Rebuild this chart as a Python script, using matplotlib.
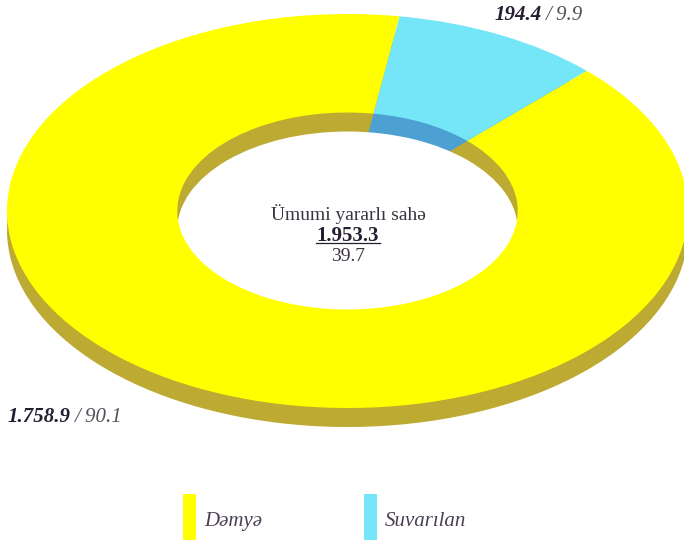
import matplotlib
matplotlib.use("Agg")
import matplotlib.pyplot as plt
from matplotlib.legend_handler import HandlerPatch
from matplotlib.lines import Line2D
from matplotlib.patches import Patch, Rectangle

categories = ["Dəmyə", "Suvarılan"]
areas = [1758.9, 194.4]
shares = ["90.1", "9.9"]
area_labels = ["1.758.9", "194.4"]
total_label = "Ümumi yararlı sahə"
total_value = "1.953.3"
total_share = "39.7"

top_colors = ["#FFFF00", "#74E6F8"]
side_colors = ["#BDAA32", "#4CA0D2"]

W, H = 684, 541
plt.rcParams["font.family"] = ["Liberation Serif", "DejaVu Serif"]
fig = plt.figure(figsize=(W / 100, H / 100), dpi=100, facecolor="white")
ax = fig.add_axes([0, 0, 1, 1])

CX, CY, RX, RY = 347.5, 211, 340.5, 197
DEPTH = 19 / RY
HOLE = 0.5
START = 81.2

common = dict(startangle=START, counterclock=True, normalize=True)
# outer side wall
w1, _ = ax.pie(areas, colors=side_colors, center=(0, -DEPTH), radius=1, **common)
# inner wall seen through the hole
w2, _ = ax.pie(areas, colors=side_colors, center=(0, 0), radius=HOLE, **common)
# white floor of the hole
w3, _ = ax.pie([1], colors=["white"], center=(0, -DEPTH), radius=HOLE, startangle=0)
# top face
w4, _ = ax.pie(areas, colors=top_colors, center=(0, 0), radius=1,
               wedgeprops=dict(width=1 - HOLE), **common)
for w in list(w1) + list(w2) + list(w3) + list(w4):
    w.set_linewidth(0)

ax.set_aspect("auto")
ax.set_xlim(-CX / RX, (W - CX) / RX)
ax.set_ylim(-(H - CY) / RY, CY / RY)
ax.axis("off")


def px(x, y):
    return x / W, 1 - y / H


ink = "#3B3340"
bold_ink = "#251D30"
fig.text(*px(348, 214.5), total_label, fontsize=14, color=ink, ha="center", va="center")
fig.text(*px(348, 235.5), total_value, fontsize=15, color=bold_ink, ha="center", va="center",
         fontweight="bold")
fig.add_artist(Line2D([316 / W, 380 / W], [1 - 243 / H] * 2, color=bold_ink, lw=0.9))
fig.text(*px(348, 256.5), total_share, fontsize=14, color=ink, ha="center", va="center")


def value_label(x, y, value, share):
    t = fig.text(*px(x, y), value, fontsize=15, color=bold_ink, ha="left", va="center",
                 fontweight="bold", fontstyle="italic")
    fig.canvas.draw()
    box = t.get_window_extent()
    fig.text((box.x1 + 4) / W, 1 - y / H, f"/ {share}", fontsize=15, color="#55505A",
             ha="left", va="center", fontstyle="italic")


value_label(495, 15, area_labels[1], shares[1])
value_label(8, 417, area_labels[0], shares[0])


def raised_swatch(legend, orig_handle, xdescent, ydescent, width, height, fontsize):
    return Rectangle((-xdescent, -ydescent + 2.2), width, height)


handles = [Patch(facecolor=c, edgecolor="none") for c in top_colors]
fs = 15
fs_px = fs * 100 / 72
fig.legend(handles, categories, ncols=2, frameon=False,
           prop=dict(family="Liberation Serif", style="italic", size=fs),
           handlelength=13 / fs_px, handleheight=3.02,
           handletextpad=0.41, columnspacing=4.85, labelcolor="#4A3F55",
           handler_map={Patch: HandlerPatch(patch_func=raised_swatch)},
           loc="lower left", bbox_to_anchor=(183 / W, -2 / H), borderaxespad=0, borderpad=0)

fig.savefig("out.png", dpi=100)
